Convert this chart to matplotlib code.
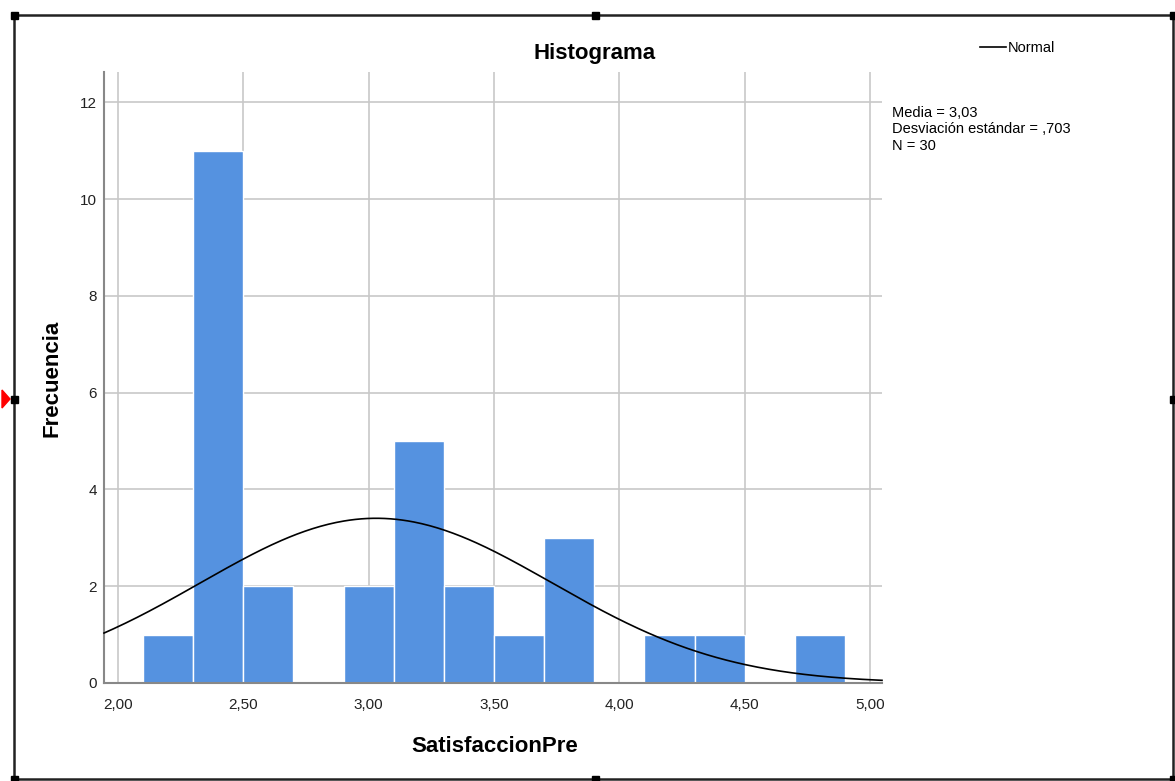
import numpy as np
import matplotlib.pyplot as plt
from matplotlib.patches import Rectangle, Polygon

# Histogram of SatisfaccionPre (SPSS style output)
bin_left = [2.1, 2.3, 2.5, 2.9, 3.1, 3.3, 3.5, 3.7, 4.1, 4.3, 4.7]
counts = [1, 11, 2, 2, 5, 2, 1, 3, 1, 1, 1]
bin_width = 0.2

media = 3.03
desv = 0.703
n = 30

x_ticks = [2.0, 2.5, 3.0, 3.5, 4.0, 4.5, 5.0]
x_tick_labels = ['2,00', '2,50', '3,00', '3,50', '4,00', '4,50', '5,00']
y_ticks = [0, 2, 4, 6, 8, 10, 12]

plt.rcParams['font.family'] = ['Liberation Sans', 'DejaVu Sans']

W, H = 1175, 781
fig = plt.figure(figsize=(W / 100, H / 100), dpi=100)
ax = fig.add_axes([104 / W, 1 - 683 / H, (882 - 104) / W, (683 - 72) / H])

ax.set_axisbelow(True)
ax.bar(bin_left, counts, width=bin_width, align='edge', color='#5592e0',
       edgecolor='white', linewidth=1.0, zorder=2)

# normal curve scaled to the histogram
xs = np.linspace(1.944, 5.048, 400)
ys = n * bin_width * np.exp(-0.5 * ((xs - media) / desv) ** 2) / (desv * np.sqrt(2 * np.pi))
ax.plot(xs, ys, color='black', linewidth=1.2, zorder=3, clip_on=False)

ax.set_xlim(1.944, 5.048)
ax.set_ylim(0, 12.63)
ax.set_xticks(x_ticks)
ax.set_xticklabels(x_tick_labels)
ax.set_yticks(y_ticks)
ax.tick_params(length=0, labelsize=11, colors='#222222')
ax.tick_params(axis='x', pad=11)
ax.tick_params(axis='y', pad=5)
ax.grid(True, color='#c8c8c8', linewidth=1.2)
for s in ['top', 'right']:
    ax.spines[s].set_visible(False)
for s in ['left', 'bottom']:
    ax.spines[s].set_color('#888888')
    ax.spines[s].set_linewidth(1.5)

fig.text(595 / W, 1 - 53 / H, 'Histograma', ha='center', va='center',
         fontsize=16, fontweight='bold')
fig.text(52 / W, 1 - 378 / H, 'Frecuencia', ha='center', va='center',
         rotation=90, fontsize=16, fontweight='bold')
fig.text(495 / W, 1 - 746 / H, 'SatisfaccionPre', ha='center', va='center',
         fontsize=16, fontweight='bold')

# legend and stats
fig.lines.append(plt.Line2D([980 / W, 1006 / W], [1 - 47 / H, 1 - 47 / H],
                            color='black', linewidth=1.2, transform=fig.transFigure))
fig.text(1008 / W, 1 - 48 / H, 'Normal', ha='left', va='center', fontsize=10.5)
fig.text(892 / W, 1 - 106 / H,
         'Media = 3,03\nDesviación estándar = ,703\nN = 30',
         ha='left', va='top', fontsize=10.5, linespacing=1.22)

# selection frame with handles
fig.patches.append(Rectangle((14 / W, 1 - 779 / H), (1173 - 14) / W, (779 - 15) / H,
                             transform=fig.transFigure, fill=False,
                             edgecolor='#222222', linewidth=1.8))
for hx, hy in [(14, 15), (595, 15), (1173, 15), (14, 399), (1173, 399),
               (14, 779), (595, 779), (1173, 779)]:
    fig.patches.append(Rectangle(((hx - 3.5) / W, 1 - (hy + 3.5) / H), 7 / W, 7 / H,
                                 transform=fig.transFigure, color='black'))
fig.patches.append(Polygon([(2 / W, 1 - 390 / H), (10 / W, 1 - 399 / H), (2 / W, 1 - 408 / H)],
                           closed=True, transform=fig.transFigure, color='red'))

fig.savefig('out.png', dpi=100)
